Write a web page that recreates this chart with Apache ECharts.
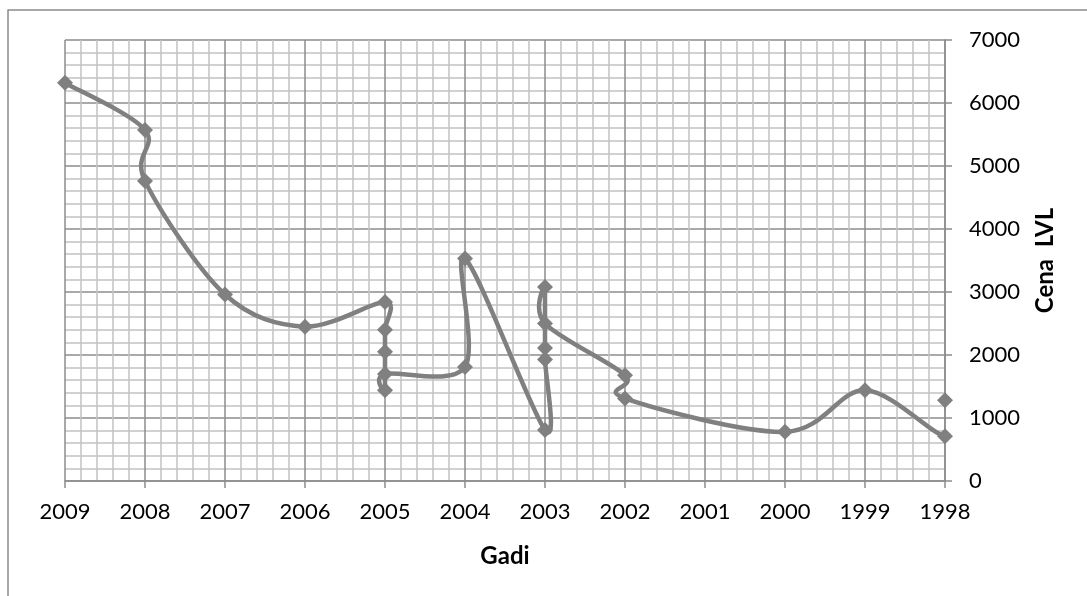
<!DOCTYPE html>
<html>
<head>
<meta charset="utf-8">
<script src="https://cdn.jsdelivr.net/npm/echarts@6/dist/echarts.min.js"></script>
<style>
  html, body { margin: 0; padding: 0; background: #fff; }
  #chart { width: 1087px; height: 596px; }
</style>
</head>
<body>
<div id="chart"></div>
<script>
// Year and price (LVL) of each listing, in the order the curve visits them
const years = [2009, 2008, 2008, 2007, 2006, 2005, 2005, 2005, 2005, 2005,
               2004, 2004, 2003, 2003, 2003, 2003, 2003, 2002, 2002, 2000,
               1999, 1998, 1998];
const prices = [6320, 5570, 4760, 2960, 2450, 2840, 2400, 2050, 1440, 1700,
                1810, 3530, 810, 1930, 2110, 3080, 2500, 1680, 1310, 780,
                1440, 710, 1280];

const xTitle = 'Gadi';
const yTitle = 'Cena  LVL';

const points = years.map((y, i) => [y, prices[i]]);

const majorGrid = '#8c8c8c';
const minorGrid = '#c2c2c2';
const markColor = '#808080';
const font = 'Lato, "Open Sans", sans-serif';

// Smooth curve through every point in order (Catmull-Rom as cubic Beziers),
// drawn in pixel space from the axis coordinates of each point.
function renderCurve(params, api) {
  const p = points.map(pt => api.coord(pt));
  const n = p.length;
  const path = [];
  path.push('M' + p[0][0] + ' ' + p[0][1]);
  const k = 1 / 6;
  for (let i = 0; i < n - 1; i++) {
    const p0 = p[Math.max(i - 1, 0)];
    const p1 = p[i];
    const p2 = p[i + 1];
    const p3 = p[Math.min(i + 2, n - 1)];
    const c1x = p1[0] + (p2[0] - p0[0]) * k;
    const c1y = p1[1] + (p2[1] - p0[1]) * k;
    const c2x = p2[0] - (p3[0] - p1[0]) * k;
    const c2y = p2[1] - (p3[1] - p1[1]) * k;
    path.push('C' + c1x + ' ' + c1y + ' ' + c2x + ' ' + c2y + ' ' + p2[0] + ' ' + p2[1]);
  }
  return {
    type: 'path',
    shape: { pathData: path.join(' ') },
    style: { fill: 'none', stroke: markColor, lineWidth: 4.5, lineJoin: 'round', lineCap: 'round' }
  };
}

const chart = echarts.init(document.getElementById('chart'), null, { renderer: 'canvas' });
chart.setOption({
  animation: false,
  backgroundColor: '#ffffff',
  grid: { left: 65, right: 142, top: 40, bottom: 115, containLabel: false },
  graphic: [{
    type: 'rect',
    shape: { x: 8, y: 10, width: 1200, height: 700 },
    style: { fill: 'none', stroke: '#8c8c8c', lineWidth: 1.5 },
    silent: true
  }],
  xAxis: {
    type: 'value',
    inverse: true,
    min: 1998,
    max: 2009,
    interval: 1,
    name: xTitle,
    nameLocation: 'middle',
    nameGap: 63,
    nameTextStyle: { fontFamily: font, fontSize: 24, fontWeight: 'bold', color: '#000' },
    axisLine: { show: true, lineStyle: { color: majorGrid, width: 1.5 } },
    axisTick: { show: true, length: 7, lineStyle: { color: majorGrid, width: 1.5 } },
    axisLabel: { fontFamily: font, fontSize: 22, color: '#000', margin: 20,
                 formatter: v => String(v) },
    splitLine: { show: true, lineStyle: { color: majorGrid, width: 1.5 } },
    minorTick: { show: false, splitNumber: 5 },
    minorSplitLine: { show: true, lineStyle: { color: minorGrid, width: 1.5 } }
  },
  yAxis: {
    type: 'value',
    position: 'right',
    min: 0,
    max: 7000,
    interval: 1000,
    name: yTitle,
    nameLocation: 'middle',
    nameGap: 88,
    nameRotate: 90,
    nameTextStyle: { fontFamily: font, fontSize: 24, fontWeight: 'bold', color: '#000' },
    axisLine: { show: true, lineStyle: { color: majorGrid, width: 1.5 } },
    axisTick: { show: true, length: 7, lineStyle: { color: majorGrid, width: 1.5 } },
    axisLabel: { fontFamily: font, fontSize: 22, color: '#000', margin: 24,
                 formatter: v => String(v) },
    splitLine: { show: true, lineStyle: { color: majorGrid, width: 1.5 } },
    minorTick: { show: false, splitNumber: 5 },
    minorSplitLine: { show: true, lineStyle: { color: minorGrid, width: 1.5 } }
  },
  series: [{
    type: 'custom',
    renderItem: renderCurve,
    data: [0],
    clip: true,
    z: 4,
    silent: true
  }, {
    type: 'line',
    data: points,
    symbol: 'diamond',
    symbolSize: 16,
    showAllSymbol: true,
    itemStyle: { color: markColor },
    lineStyle: { width: 0, opacity: 0 },
    z: 5
  }]
});
</script>
</body>
</html>
